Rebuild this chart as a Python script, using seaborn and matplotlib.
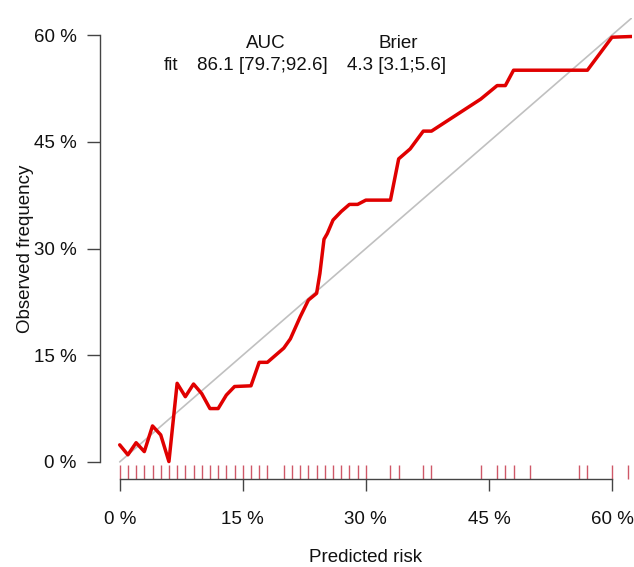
import matplotlib
matplotlib.use("Agg")
import matplotlib.pyplot as plt
import seaborn as sns
import pandas as pd
from matplotlib.ticker import FixedLocator, FuncFormatter

# ---- data (percent) ----
predicted_risk = [0, 1, 2, 3, 4, 5, 6, 7, 8, 9, 10, 11, 12, 13, 14, 15, 16, 17, 18,
                  19, 20, 20.8, 22, 23, 24, 24.4, 24.9, 25.3, 26, 27, 28, 29, 30,
                  33, 34, 35.4, 37, 38, 44, 46, 47, 48, 50, 56, 57, 60, 62.4]
observed_freq = [2.4, 1.0, 2.7, 1.45, 5.06, 3.8, 0.05, 11.05, 9.17, 10.95, 9.6, 7.5,
                 7.5, 9.4, 10.6, 10.65, 10.7, 14.0, 14.0, 15.0, 16.0, 17.3, 20.4,
                 22.75, 23.7, 26.5, 31.3, 32.1, 34.0, 35.2, 36.2, 36.2, 36.8, 36.8,
                 42.6, 44.0, 46.5, 46.5, 51.0, 52.9, 52.9, 55.06, 55.06, 55.06,
                 55.06, 59.7, 59.8]
rug_risk = [0, 1, 2, 3, 4, 5, 6, 7, 8, 9, 10, 11, 12, 13, 14, 15, 16, 17, 18,
            20, 21, 22, 23, 24, 25, 26, 27, 28, 29, 30,
            33, 34, 37, 38, 44, 46, 47, 48, 50, 56, 57, 60, 62]
tick_values = [0, 15, 30, 45, 60]
auc_label = "AUC"
brier_label = "Brier"
model_name = "fit"
auc_text = "86.1 [79.7;92.6]"
brier_text = "4.3 [3.1;5.6]"

curve = pd.DataFrame({"risk": predicted_risk, "obs": observed_freq})
rug = pd.DataFrame({"risk": rug_risk})
diag_end = max(predicted_risk)
diag = pd.DataFrame({"x": [0, diag_end], "y": [0, diag_end]})

sns.set_style("white")
plt.rcParams["font.family"] = ["Liberation Sans", "DejaVu Sans"]

FS = 13.5
W, H = 634, 567
fig = plt.figure(figsize=(W / 100, H / 100), dpi=100)
ax = fig.add_axes([100 / W, 1 - 479 / H, (631.7 - 100) / W, (479 - 18) / H])

sns.lineplot(data=diag, x="x", y="y", color="#c0c0c0", lw=1.2, ax=ax, zorder=1)
sns.lineplot(data=curve, x="risk", y="obs", color="#e00000", lw=2.5, ax=ax,
             zorder=3, sort=False)
sns.rugplot(data=rug, x="risk", height=0.03, color="#cf5868", lw=1.0, ax=ax,
            expand_margins=False, clip_on=False)

ax.set_xlim(-2.4, 62.4)
ax.set_ylim(-2.4, 62.4)

ax.xaxis.set_major_locator(FixedLocator(tick_values))
ax.yaxis.set_major_locator(FixedLocator(tick_values))
fmt = FuncFormatter(lambda v, p: f"{v:.0f} %")
ax.xaxis.set_major_formatter(fmt)
ax.yaxis.set_major_formatter(fmt)

for s in ["top", "right"]:
    ax.spines[s].set_visible(False)
ax.spines["left"].set_bounds(0, 60)
ax.spines["bottom"].set_bounds(0, 60)
for s in ["left", "bottom"]:
    ax.spines[s].set_color("#444444")
    ax.spines[s].set_linewidth(1.0)

ax.tick_params(axis="both", which="major", direction="out", color="#444444",
               width=1.0, labelsize=FS, labelcolor="#111111")
ax.tick_params(axis="y", length=9.5, pad=7.5)
ax.tick_params(axis="x", length=8.5, pad=14.5)
ax.xaxis.set_ticks_position("bottom")
ax.yaxis.set_ticks_position("left")

ax.set_xlabel("Predicted risk", fontsize=FS, color="#111111", labelpad=15.5)
ax.set_ylabel("Observed frequency", fontsize=FS, color="#111111", labelpad=0)

def fx(px):
    return px / W

def fy(py):
    return 1 - py / H

tc = "#111111"
fig.text(fx(266), fy(44), auc_label, ha="center", va="center", fontsize=FS, color=tc)
fig.text(fx(398), fy(44), brier_label, ha="center", va="center", fontsize=FS, color=tc)
fig.text(fx(164), fy(66), model_name, ha="left", va="center", fontsize=FS, color=tc)
fig.text(fx(197), fy(66), auc_text, ha="left", va="center", fontsize=FS, color=tc)
fig.text(fx(347), fy(66), brier_text, ha="left", va="center", fontsize=FS, color=tc)

fig.savefig("out.png", dpi=100)
